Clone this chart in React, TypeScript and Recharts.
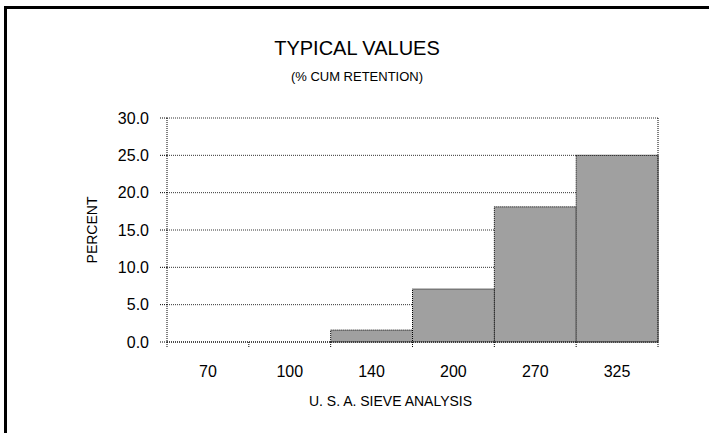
import {
  Bar,
  BarChart,
  CartesianGrid,
  Label,
  XAxis,
  YAxis,
} from "recharts";

const sieveSizes = ["70", "100", "140", "200", "270", "325"];
const cumRetention = [0, 0, 1.6, 7.1, 18.1, 25.0];
const percentTicks = [0, 5, 10, 15, 20, 25, 30];

const data = sieveSizes.map((size, i) => ({ size, value: cumRetention[i] }));

const FONT = '"Liberation Sans", Arial, sans-serif';
const DOTS = "1 1";

function SieveTick(props: any) {
  const { x, y, payload } = props;
  // payload.offset is half the band width on a category axis
  const half = payload?.offset ?? 41;
  const isLast = payload?.value === sieveSizes[sieveSizes.length - 1];
  return (
    <g>
      <line x1={x - half} y1={y} x2={x - half} y2={y + 6} stroke="#000" strokeDasharray={DOTS} />
      {isLast && (
        <line x1={x + half} y1={y} x2={x + half} y2={y + 6} stroke="#000" strokeDasharray={DOTS} />
      )}
      <text x={x} y={y + 35} textAnchor="middle" fontSize={16} fontFamily={FONT} fill="#000">
        {payload.value}
      </text>
    </g>
  );
}

export default function App() {
  return (
    <div
      style={{
        position: "absolute",
        left: 0,
        top: 0,
        width: 709,
        height: 433,
        background: "#fff",
        overflow: "hidden",
        fontFamily: FONT,
      }}
    >
      {/* frame: only top and left edges show in the picture */}
      <div
        style={{
          position: "absolute",
          left: 4,
          top: 6,
          width: 720,
          height: 440,
          borderTop: "3px solid #000",
          borderLeft: "3px solid #000",
        }}
      />
      <div
        style={{
          position: "absolute",
          left: 0,
          width: 714,
          top: 37,
          textAlign: "center",
          fontSize: 20,
          color: "#000",
          lineHeight: "22px",
        }}
      >
        TYPICAL VALUES
      </div>
      <div
        style={{
          position: "absolute",
          left: 0,
          width: 714,
          top: 69,
          textAlign: "center",
          fontSize: 13,
          color: "#000",
          lineHeight: "16px",
        }}
      >
        (% CUM RETENTION)
      </div>
      <div style={{ position: "absolute", left: 0, top: 0 }}>
        <BarChart
          width={709}
          height={433}
          data={data}
          margin={{ top: 118, right: 50, bottom: 41, left: 100 }}
          barCategoryGap={0}
        >
          <CartesianGrid
            vertical={false}
            stroke="#333"
            strokeDasharray={DOTS}
          />
          <XAxis
            dataKey="size"
            height={50}
            tickSize={0}
            tickMargin={0}
            tickLine={false}
            axisLine={{ stroke: "#000", strokeDasharray: DOTS }}
            tick={<SieveTick />}
            interval={0}
          >
            <Label
              value="U. S. A. SIEVE ANALYSIS"
              position="bottom"
              offset={4}
              dx={-22}
              style={{ fontSize: 14, fontFamily: FONT, fill: "#000" }}
            />
          </XAxis>
          <YAxis
            width={67}
            domain={[0, 30]}
            ticks={percentTicks}
            interval={0}
            tickFormatter={(v) => Number(v).toFixed(1)}
            tick={{ fontSize: 16, fontFamily: FONT, fill: "#000" }}
            tickSize={7}
            tickMargin={11}
            tickLine={{ stroke: "#000", strokeDasharray: DOTS }}
            axisLine={{ stroke: "#000", strokeDasharray: DOTS }}
          >
            <Label
              value="PERCENT"
              angle={-90}
              position="left"
              offset={8}
              style={{ fontSize: 14, fontFamily: FONT, fill: "#000", textAnchor: "middle" }}
            />
          </YAxis>
          <YAxis
            yAxisId="frame"
            orientation="right"
            width={1}
            tick={false}
            tickLine={false}
            axisLine={{ stroke: "#000", strokeDasharray: DOTS }}
          />
          <Bar
            dataKey="value"
            fill="#a0a0a0"
            stroke="#000"
            strokeDasharray={DOTS}
            isAnimationActive={false}
          />
        </BarChart>
      </div>
    </div>
  );
}
